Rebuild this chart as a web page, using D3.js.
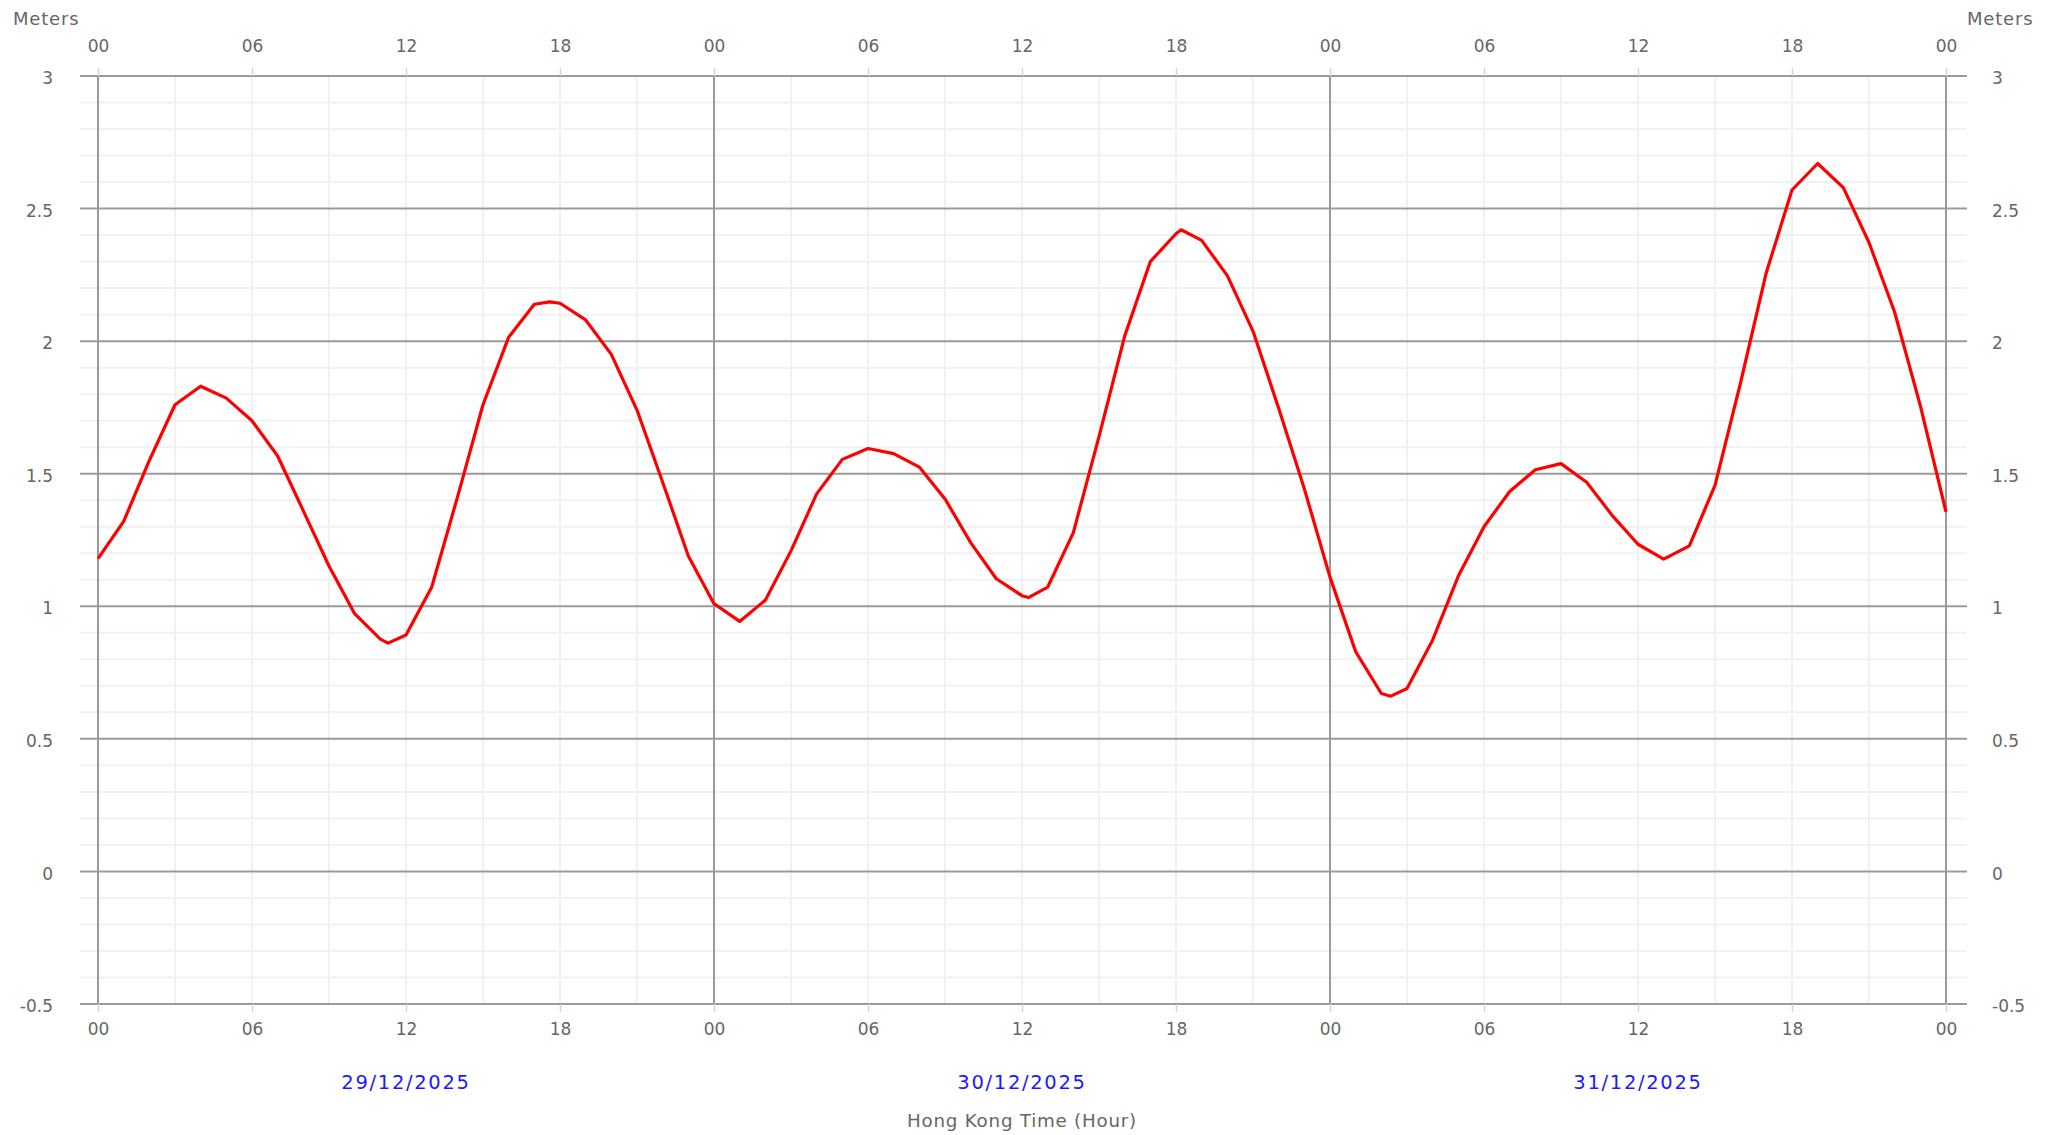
<!DOCTYPE html>
<html>
<head>
<meta charset="utf-8">
<script src="https://cdn.jsdelivr.net/npm/d3@7"></script>
<style>
  html, body { margin: 0; padding: 0; background: #fff; }
  svg { display: block; }
  text { font-family: "DejaVu Sans", Verdana, sans-serif; }
</style>
</head>
<body>
<svg id="chart" width="2058" height="1135"></svg>
<script>
// ---- data ----
const dates = ["29/12/2025", "30/12/2025", "31/12/2025"];
// hourly tide heights (m), 00:00 29/12 to 00:00 01/01
const hourlyHeights = [
  1.18, 1.32, 1.55, 1.76, 1.83, 1.785, 1.70, 1.567, 1.36, 1.152, 0.972, 0.876, 0.892,
  1.072, 1.41, 1.76, 2.015, 2.139, 2.143, 2.08, 1.95, 1.74, 1.468, 1.19,
  1.01, 0.943, 1.023, 1.209, 1.424, 1.554, 1.595, 1.576, 1.525, 1.405, 1.24, 1.104, 1.04,
  1.072, 1.278, 1.64, 2.019, 2.30, 2.405, 2.38, 2.247, 2.038, 1.747, 1.443,
  1.11, 0.829, 0.671, 0.69, 0.873, 1.114, 1.30, 1.433, 1.515, 1.538, 1.468, 1.342, 1.234,
  1.178, 1.228, 1.456, 1.845, 2.259, 2.57, 2.67, 2.579, 2.372, 2.109, 1.757, 1.356
];
// high / low water times (hours from start) and heights
const extremeHours   = [11.3, 17.6, 36.25, 42.2, 50.37];
const extremeHeights = [0.861, 2.148, 1.033, 2.42, 0.661];
const hourTickValues = [0, 6, 12, 18, 24, 30, 36, 42, 48, 54, 60, 66, 72];
const yTickValues = [-0.5, 0, 0.5, 1, 1.5, 2, 2.5, 3];
const yUnit = "Meters";
const xTitle = "Hong Kong Time (Hour)";

// ---- layout ----
const L = 98, R = 1946, T = 76, B = 1004;
const svg = d3.select("#chart");
const x = d3.scaleLinear().domain([0, 72]).range([L, R]);
const y = d3.scaleLinear().domain([-0.5, 3]).range([B, T]);

const MAJOR = "#9a9a9a", MINOR = "#f1f1f1", TXT = "#666666";

// minor horizontal grid (every 0.1 m)
const minorY = d3.range(-5, 31).map(i => i / 10).filter(v => Math.round(v * 10) % 5 !== 0);
svg.append("g").selectAll("line").data(minorY).join("line")
  .attr("x1", 80).attr("x2", 1967)
  .attr("y1", d => y(d)).attr("y2", d => y(d))
  .attr("stroke", MINOR).attr("stroke-width", 2);

// vertical grid every 3 h (light), day boundaries dark
const vHours = d3.range(0, 73, 3);
svg.append("g").selectAll("line").data(vHours.filter(h => h % 24 !== 0)).join("line")
  .attr("x1", d => x(d)).attr("x2", d => x(d))
  .attr("y1", T).attr("y2", B)
  .attr("stroke", MINOR).attr("stroke-width", 2);

// major horizontal grid
svg.append("g").selectAll("line").data(yTickValues).join("line")
  .attr("x1", 80).attr("x2", 1967)
  .attr("y1", d => y(d)).attr("y2", d => y(d))
  .attr("stroke", MAJOR).attr("stroke-width", 2);

svg.append("g").selectAll("line").data(vHours.filter(h => h % 24 === 0)).join("line")
  .attr("x1", d => x(d)).attr("x2", d => x(d))
  .attr("y1", T).attr("y2", B)
  .attr("stroke", MAJOR).attr("stroke-width", 2);

// x axes (top & bottom)
const fmtHour = h => String(h % 24).padStart(2, "0");
function styleAxis(g) {
  g.select(".domain").remove();
  g.selectAll(".tick line").attr("stroke", "#ccd6eb").attr("stroke-width", 1.5);
  g.selectAll(".tick text").attr("fill", TXT).attr("font-size", 17)
    .attr("font-family", "DejaVu Sans, Verdana, sans-serif");
}
svg.append("g").attr("transform", `translate(0,${T})`)
  .call(d3.axisTop(x).tickValues(hourTickValues).tickFormat(fmtHour).tickSize(8).tickPadding(16))
  .call(styleAxis);
svg.append("g").attr("transform", `translate(0,${B})`)
  .call(d3.axisBottom(x).tickValues(hourTickValues).tickFormat(fmtHour).tickSize(8).tickPadding(11))
  .call(styleAxis);

// y axes (left & right)
function styleY(g) {
  g.select(".domain").remove();
  g.selectAll(".tick line").remove();
  g.selectAll(".tick text").attr("fill", TXT).attr("font-size", 17)
    .attr("font-family", "DejaVu Sans, Verdana, sans-serif").attr("dy", "0.45em");
}
svg.append("g").attr("transform", `translate(${L},0)`)
  .call(d3.axisLeft(y).tickValues(yTickValues).tickFormat(d => String(d)).tickSize(0).tickPadding(45))
  .call(styleY);
svg.append("g").attr("transform", `translate(${R},0)`)
  .call(d3.axisRight(y).tickValues(yTickValues).tickFormat(d => String(d)).tickSize(0).tickPadding(46))
  .call(styleY);

// unit labels
svg.append("text").attr("x", 13).attr("y", 25).attr("fill", TXT)
  .attr("font-size", 18).attr("letter-spacing", 0.8).text(yUnit);
svg.append("text").attr("x", 1967).attr("y", 25).attr("fill", TXT)
  .attr("font-size", 18).attr("letter-spacing", 0.8).text(yUnit);

// date labels
svg.append("g").selectAll("text").data(dates).join("text")
  .attr("x", (d, i) => x(i * 24 + 12)).attr("y", 1089)
  .attr("text-anchor", "middle").attr("fill", "#1a1aff")
  .attr("font-size", 19.5).attr("letter-spacing", 1.7).text(d => d);

// axis title
svg.append("text").attr("x", x(36)).attr("y", 1127)
  .attr("text-anchor", "middle").attr("fill", TXT)
  .attr("font-size", 18.3).attr("letter-spacing", 0.75).text(xTitle);

// tide line
const pts = hourlyHeights.map((v, i) => [i, v])
  .concat(extremeHours.map((h, i) => [h, extremeHeights[i]]))
  .sort((a, b) => a[0] - b[0]);
svg.append("path").datum(pts)
  .attr("fill", "none").attr("stroke", "#ff0000").attr("stroke-width", 3.2)
  .attr("stroke-linejoin", "round")
  .attr("d", d3.line().x(d => x(d[0])).y(d => y(d[1])));
</script>
</body>
</html>
